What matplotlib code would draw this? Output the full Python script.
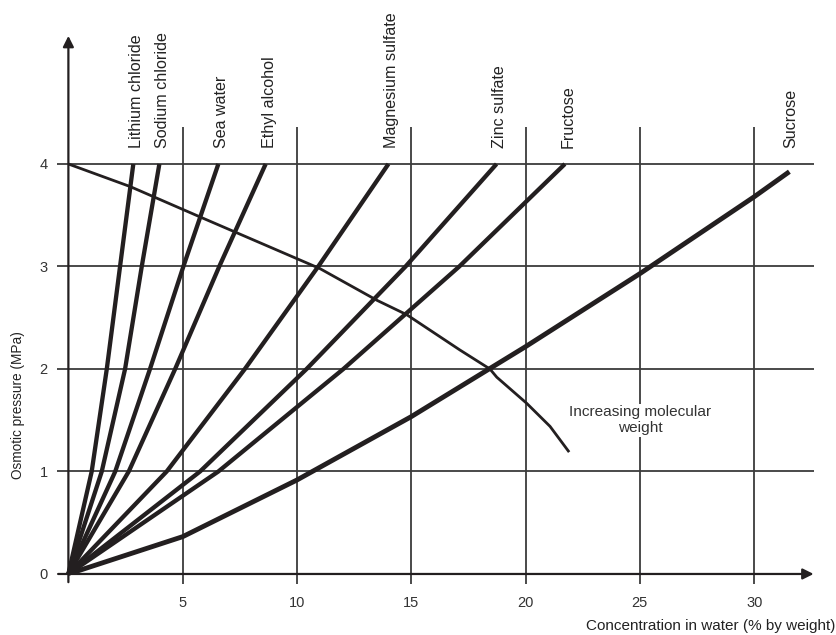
import matplotlib.pyplot as plt

plt.rcParams['font.family'] = ['Liberation Sans', 'DejaVu Sans']

# concentration (% by weight) read at osmotic pressure 0, 1, 2, 3, 4 MPa
pressure_levels = [0, 1, 2, 3, 4]
solutes = ['Lithium chloride', 'Sodium chloride', 'Sea water', 'Ethyl alcohol',
           'Magnesium sulfate', 'Zinc sulfate', 'Fructose']
lithium_conc = [0, 1.02, 1.68, 2.26, 2.84]
sodium_conc = [0, 1.46, 2.48, 3.21, 3.98]
sea_conc = [0, 2.05, 3.57, 5.03, 6.56]
ethyl_conc = [0, 2.64, 4.67, 6.60, 8.63]
magnesium_conc = [0, 4.30, 7.72, 10.93, 14.0]
zinc_conc = [0, 5.76, 10.42, 14.75, 18.73]
fructose_conc = [0, 6.56, 12.03, 17.1, 21.72]

# sucrose read along the concentration axis
sucrose_conc = [0, 5, 10, 15, 20, 25, 30, 31.54]
sucrose_pressure = [0, 0.364, 0.917, 1.535, 2.218, 2.93, 3.68, 3.925]

# "increasing molecular weight" guide curve
mw_conc = [0, 2.7, 5.9, 11.0, 13.5, 14.8, 17.13, 18.44, 18.74, 20.05, 21.07, 21.87]
mw_pressure = [4.0, 3.78, 3.47, 2.98, 2.67, 2.53, 2.185, 2.0, 1.92, 1.665, 1.44, 1.2]

x_ticks = [5, 10, 15, 20, 25, 30]
y_ticks = [0, 1, 2, 3, 4]

ink = '#231f20'
grid_c = '#3c3c3c'

fig = plt.figure(figsize=(8.36, 6.35), dpi=100)
ax = fig.add_axes([0.0818, 0.0961, 0.8914, 0.8474])
ax.set_xlim(0, 32.6)
ax.set_ylim(0, 5.25)
for s in ax.spines.values():
    s.set_visible(False)

# grid lines (they run past the axes like tick marks)
ax.vlines(x_ticks, -0.1, 4.36, color=grid_c, lw=1.3, clip_on=False, zorder=1)
ax.hlines(y_ticks[1:], -0.48, 32.6, color=grid_c, lw=1.3, clip_on=False, zorder=1)

# axes with arrows
ax.annotate('', xy=(0, 5.25), xytext=(0, -0.08), annotation_clip=False,
            arrowprops=dict(arrowstyle='-|>', color=ink, lw=1.6, mutation_scale=16,
                            shrinkA=0, shrinkB=0))
ax.annotate('', xy=(32.6, 0), xytext=(-0.45, 0), annotation_clip=False,
            arrowprops=dict(arrowstyle='-|>', color=ink, lw=1.6, mutation_scale=16,
                            shrinkA=0, shrinkB=0))

ax.set_xticks(x_ticks)
ax.set_yticks(y_ticks)
ax.tick_params(axis='x', length=0, pad=16, labelsize=10.5, labelcolor='#333333')
ax.tick_params(axis='y', length=0, pad=15, labelsize=10.5, labelcolor='#333333')

all_conc = [lithium_conc, sodium_conc, sea_conc, ethyl_conc,
            magnesium_conc, zinc_conc, fructose_conc]
for name, conc in zip(solutes, all_conc):
    ax.plot(conc, pressure_levels, color=ink, lw=3.1, solid_capstyle='butt',
            solid_joinstyle='round', zorder=3, clip_on=False)
    ax.text(conc[-1] + 0.15, 4.16, name, rotation=90, ha='center', va='bottom',
            fontsize=11.6, color='#222222')

ax.plot(sucrose_conc, sucrose_pressure, color=ink, lw=3.5, solid_capstyle='butt',
        solid_joinstyle='round', zorder=3)
ax.text(sucrose_conc[-1] + 0.05, 4.16, 'Sucrose', rotation=90, ha='center', va='bottom',
        fontsize=11.6, color='#222222')

ax.plot(mw_conc, mw_pressure, color=ink, lw=2.0, solid_joinstyle='round', zorder=3)
ax.text(25.0, 1.50, 'Increasing molecular\nweight', ha='center', va='center',
        fontsize=11.1, color='#333333', linespacing=1.2, zorder=2,
        bbox=dict(facecolor='white', edgecolor='none', pad=1))

ax.text(-2.2, 1.65, 'Osmotic pressure (MPa)', rotation=90, ha='center', va='center',
        fontsize=9.8, color='#222222')
ax.text(33.55, -0.51, 'Concentration in water (% by weight)', ha='right', va='center',
        fontsize=11, color='#222222', clip_on=False)

fig.savefig('out.png', dpi=100)
